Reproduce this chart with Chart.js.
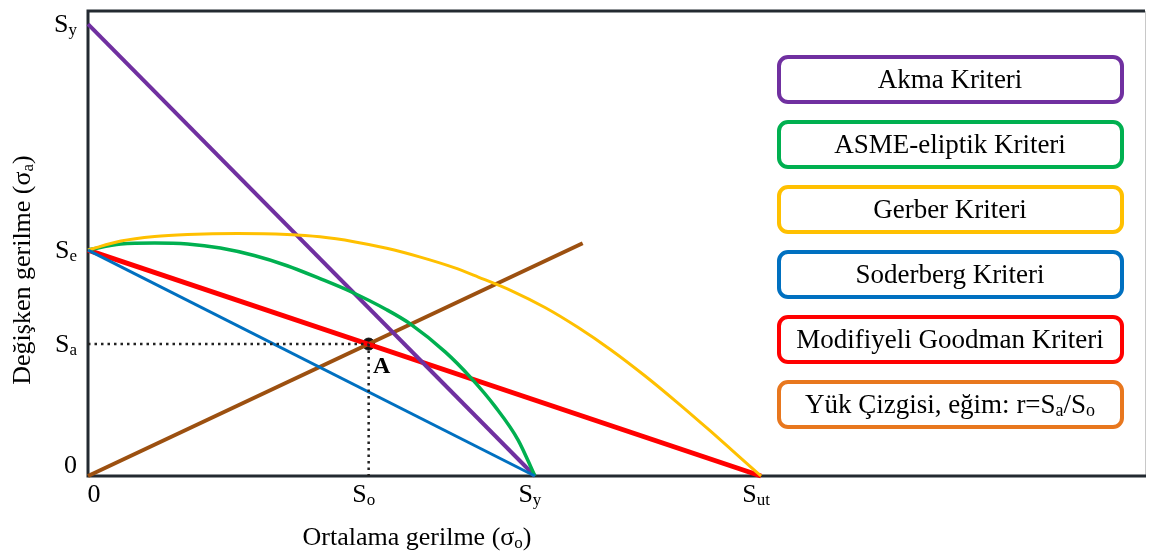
<!DOCTYPE html>
<html>
<head>
<meta charset="utf-8">
<script src="https://cdn.jsdelivr.net/npm/chart.js@4/dist/chart.umd.min.js"></script>
<style>
html, body { margin: 0; background: #fff; overflow: hidden; }
#wrap { width: 1153px; height: 552px; }
</style>
</head>
<body>
<div id="wrap"><canvas id="myChart"></canvas></div>
<script>
// stress values (Sut = 100, Se = 50)
const So = 41.7, Sy = 66.4, Sut = 100
const Se = 50, SyY = 100, Sa = 29.2
const xMax = 157.2, yMax = 102.9

const xTickValues = [0, So, Sy, Sut]
const xTickLabels = ['0', 'S_{o}', 'S_{y}', 'S_{ut}']
const yTickValues = [0, Sa, Se, SyY]
const yTickLabels = ['0', 'S_{a}', 'S_{e}', 'S_{y}']

const akmaX = [0, Sy], akmaY = [SyY, 0]
const asmeX = [0, 4.88, 9.91, 14.79, 19.67, 24.7, 29.59, 34.47, 38.91, 44.38, 47.93, 53.11, 56.8, 60.5, 63.91, 66.4]
const asmeY = [50, 51.33, 51.55, 51.33, 50.44, 48.78, 46.53, 43.67, 40.88, 36.79, 33.61, 27.41, 21.88, 15.35, 7.96, 0]
const gerberX = [0, 4.88, 9.91, 14.79, 22.19, 29.59, 34.47, 39.5, 44.38, 49.26, 54.29, 57.99, 62.87, 67.9, 72.78, 77.66, 82.69, 87.57, 92.46, 96.45, 100]
const gerberY = [50, 51.99, 53.0, 53.43, 53.65, 53.43, 52.92, 51.86, 50.4, 48.5, 46.17, 44.03, 41.04, 37.28, 32.9, 27.94, 22.23, 16.24, 9.96, 4.69, 0]
const soderbergX = [0, Sy], soderbergY = [Se, 0]
const goodmanX = [0, Sut], goodmanY = [Se, 0]
const loadX = [0, 73.5], loadY = [0, 51.5]

const legendLabels = ['Akma Kriteri', 'ASME-eliptik Kriteri', 'Gerber Kriteri', 'Soderberg Kriteri', 'Modifiyeli Goodman Kriteri', 'Yük Çizgisi, eğim: r=S_{a}/S_{o}']
const legendColors = ['#7030A0', '#00B050', '#FFC000', '#0070C0', '#FF0000', '#E8771E']

const FONT = '"Liberation Serif", "Times New Roman", serif'

function pts(xs, ys) {
    return xs.map((x, i) => ({ x: x, y: ys[i] }))
}

function line(data, color, width, extra) {
    return Object.assign({
        data: data,
        borderColor: color,
        backgroundColor: color,
        borderWidth: width,
        showLine: true,
        pointRadius: 0,
        fill: false,
        clip: false
    }, extra || {})
}

// text with S_{x} style subscripts
function richText(ctx, str, x, y, size, align) {
    let parts = str.split(/_\{([^}]*)\}/)
    let big = size + 'px ' + FONT, small = Math.round(size * 0.65) + 'px ' + FONT
    let w = 0
    parts.forEach((p, i) => { ctx.font = i % 2 ? small : big; w += ctx.measureText(p).width })
    let cx = align == 'center' ? x - w / 2 : align == 'right' ? x - w : x
    ctx.textAlign = 'left'
    ctx.textBaseline = 'alphabetic'
    parts.forEach((p, i) => {
        ctx.font = i % 2 ? small : big
        ctx.fillText(p, cx, i % 2 ? y + size * 0.1 : y)
        cx += ctx.measureText(p).width
    })
}

const decor = {
    id: 'decor',
    beforeDatasetsDraw(chart) {
        const ctx = chart.ctx, a = chart.chartArea
        ctx.save()
        ctx.strokeStyle = '#c8c8c8'
        ctx.lineWidth = 1
        ctx.beginPath(); ctx.moveTo(a.right - 0.5, a.top); ctx.lineTo(a.right - 0.5, a.bottom); ctx.stroke()
        ctx.strokeStyle = '#232a31'
        ctx.lineWidth = 3
        ctx.beginPath()
        ctx.moveTo(a.right - 1, a.top); ctx.lineTo(a.left, a.top); ctx.lineTo(a.left, a.bottom); ctx.lineTo(a.right, a.bottom)
        ctx.stroke()
        ctx.restore()
    },
    afterDraw(chart) {
        const ctx = chart.ctx, a = chart.chartArea
        const xs = chart.scales.x, ys = chart.scales.y
        ctx.save()
        ctx.fillStyle = '#000'
        yTickValues.forEach((v, i) => {
            let py = Math.min(ys.getPixelForValue(v), a.bottom - 11)
            richText(ctx, yTickLabels[i], a.left - 11, py + 8, 26, 'right')
        })
        xTickValues.forEach((v, i) => {
            let px = Math.max(xs.getPixelForValue(v) - 5, a.left + 6)
            richText(ctx, xTickLabels[i], px, a.bottom + 26, 26, 'center')
        })
        richText(ctx, 'Ortalama gerilme (σ_{o})', 417, 545, 26, 'center')
        ctx.save()
        ctx.translate(30, 270)
        ctx.rotate(-Math.PI / 2)
        richText(ctx, 'Değişken gerilme (σ_{a})', 0, 0, 26, 'center')
        ctx.restore()

        // point A label
        ctx.font = 'bold 24px ' + FONT
        ctx.textAlign = 'center'
        ctx.textBaseline = 'middle'
        ctx.fillText('A', xs.getPixelForValue(So) + 13, ys.getPixelForValue(Sa) + 23)

        // legend boxes
        legendLabels.forEach((t, i) => {
            let top = 57 + i * 65
            ctx.strokeStyle = legendColors[i]
            ctx.lineWidth = 4
            ctx.beginPath()
            ctx.roundRect(779, top, 343, 45, 9)
            ctx.stroke()
            ctx.fillStyle = '#000'
            richText(ctx, t, 950, top + 31, 27, 'center')
        })
        ctx.restore()
    }
}

new Chart(document.querySelector('#myChart'), {
    type: 'scatter',
    data: {
        datasets: [
            line([{ x: 0, y: Sa }, { x: So, y: Sa }], '#222', 2.5, { borderDash: [2.5, 4] }),
            line([{ x: So, y: Sa }, { x: So, y: 0 }], '#222', 2.5, { borderDash: [2.5, 4] }),
            line(pts(soderbergX, soderbergY), '#0070C0', 3),
            line(pts(gerberX, gerberY), '#FFC000', 3, { cubicInterpolationMode: 'monotone' }),
            line(pts(asmeX, asmeY), '#00B050', 3.5, { cubicInterpolationMode: 'monotone' }),
            line(pts(akmaX, akmaY), '#7030A0', 4),
            line(pts(goodmanX, goodmanY), '#FF0000', 5),
            line(pts(loadX, loadY), '#9C5010', 4),
            { data: [{ x: So, y: Sa }], pointRadius: 6, pointBackgroundColor: '#111', pointBorderColor: '#111', showLine: false }
        ]
    },
    options: {
        responsive: true,
        maintainAspectRatio: false,
        animation: false,
        layout: { padding: { left: 88, top: 11, right: 2, bottom: 76 } },
        plugins: { legend: { display: false }, tooltip: { enabled: false } },
        scales: {
            x: { type: 'linear', min: 0, max: xMax, display: false },
            y: { type: 'linear', min: 0, max: yMax, display: false }
        }
    },
    plugins: [decor]
})
</script>
</body>
</html>
